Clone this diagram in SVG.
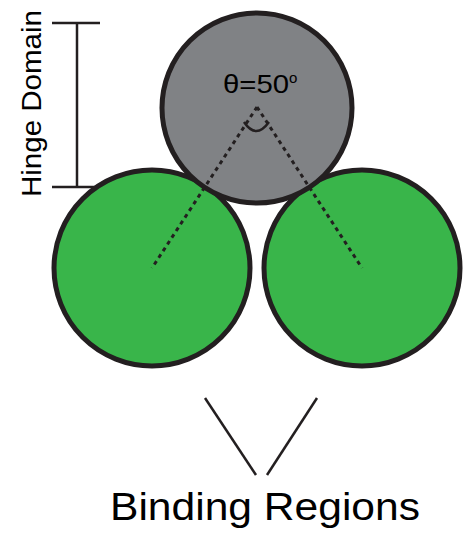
<svg xmlns="http://www.w3.org/2000/svg" width="467" height="539" viewBox="0 0 467 539">
<style>
.circ{stroke:#231f20;stroke-width:5}
.green{fill:#39b54a}
.gray{fill:#808285}
.line{stroke:#231f20;stroke-width:2.5;fill:none;stroke-linecap:butt}
.dash{stroke:#231f20;stroke-width:3;fill:none;stroke-dasharray:4 4}
.lbl{font-family:"Liberation Sans",Arial,sans-serif;fill:#000}
</style>
<rect width="467" height="539" fill="#fff"/>
<g id="bracket">
<line class="line" x1="52" y1="23" x2="100" y2="23"/>
<line class="line" x1="77" y1="23" x2="77" y2="187"/>
<line class="line" x1="52" y1="187" x2="100" y2="187"/>
<text class="lbl" font-size="27" transform="translate(41,197) rotate(-90)" textLength="187" lengthAdjust="spacingAndGlyphs">Hinge Domain</text>
</g>
<g id="left-binding">
<circle class="circ green" cx="152" cy="268" r="98"/>
</g>
<g id="right-binding">
<circle class="circ green" cx="362" cy="268" r="98"/>
</g>
<g id="hinge">
<circle class="circ gray" cx="257" cy="108" r="95"/>
<text class="lbl" x="223" y="93" font-size="26" textLength="66" lengthAdjust="spacingAndGlyphs">θ=50</text>
<text class="lbl" x="289" y="83" font-size="15">o</text>
</g>
<g id="connectors">
<line class="dash" x1="257" y1="107" x2="152" y2="268"/>
<line class="dash" x1="257" y1="107" x2="362" y2="268"/>
<path class="line" d="M244,122 Q256,140 269,122"/>
<line class="line" x1="205" y1="398" x2="256" y2="475"/>
<line class="line" x1="317" y1="398" x2="267" y2="475"/>
</g>
<text class="lbl" x="110" y="520" font-size="38" textLength="310" lengthAdjust="spacingAndGlyphs">Binding Regions</text>
</svg>
